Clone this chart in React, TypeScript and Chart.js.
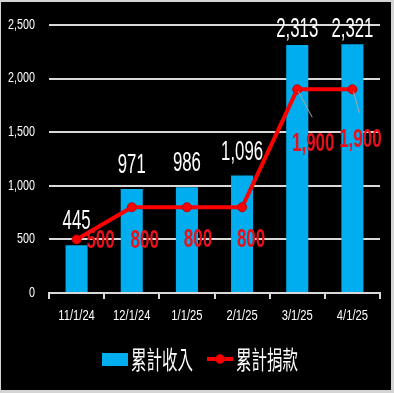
import React, { useEffect, useRef } from "react";
import { Chart, registerables } from "chart.js";
Chart.register(...registerables);

const categories = ["11/1/24", "12/1/24", "1/1/25", "2/1/25", "3/1/25", "4/1/25"];
const incomeValues = [445, 971, 986, 1096, 2313, 2321];
const donationValues = [500, 800, 800, 800, 1900, 1900];
const seriesNames = ["累計收入", "累計捐款"];
const yMax = 2500;
const yStep = 500;
// label placement tweaks (pixels) for the donation labels, as in the original
const donationLabelOffsets = [[24, 0], [13, 32], [11, 31], [9, 31], [16, 53], [8, 49]];

const SANS = "'Liberation Sans', Arial, sans-serif";
const CJK = "'Noto Sans CJK TC', 'Noto Sans CJK SC', sans-serif";
const BLUE = "#00AEEF";
const RED = "#ff0000";
const GRID = "#d9d9d9";

const fmt = (v: number) => v.toLocaleString("en-US");

function drawScaled(ctx: CanvasRenderingContext2D, text: string, x: number, y: number, sx: number, align: CanvasTextAlign, baseline: CanvasTextBaseline) {
  ctx.save();
  ctx.translate(x, y);
  ctx.scale(sx, 1);
  ctx.textAlign = align;
  ctx.textBaseline = baseline;
  ctx.fillText(text, 0, 0);
  ctx.restore();
}

const bgPlugin = {
  id: "bg",
  beforeDraw(chart: any) {
    const ctx = chart.ctx;
    ctx.save();
    ctx.fillStyle = "#d4d4d4";
    ctx.fillRect(0, 0, chart.width, chart.height);
    ctx.fillStyle = "#000";
    ctx.fillRect(1, 2, chart.width - 4, chart.height - 5);
    ctx.restore();
  },
};

const labelPlugin = {
  id: "labels",
  afterDatasetsDraw(chart: any) {
    const ctx = chart.ctx;
    const barMeta = chart.getDatasetMeta(1);
    const lineMeta = chart.getDatasetMeta(0);
    ctx.save();
    // bar labels
    ctx.fillStyle = "#ffffff";
    ctx.font = `28px ${SANS}`;
    barMeta.data.forEach((el: any, i: number) => {
      const y = Math.max(el.y - 16, 37);
      drawScaled(ctx, fmt(incomeValues[i]), el.x, y, 0.6, "center", "alphabetic");
    });
    // line labels
    lineMeta.data.forEach((el: any, i: number) => {
      const [dx, dy] = donationLabelOffsets[i];
      const lx = el.x + dx;
      const ly = el.y + dy;
      if (dy > 40) {
        ctx.strokeStyle = "#a6a6a6";
        ctx.lineWidth = 1;
        ctx.beginPath();
        ctx.moveTo(el.x + 1, el.y + 2);
        ctx.lineTo(lx - 1, ly - 25);
        ctx.stroke();
      }
      ctx.fillStyle = "#e8101a";
      ctx.font = `bold 25px ${SANS}`;
      drawScaled(ctx, fmt(donationValues[i]), lx, ly + 9, 0.68, "center", "alphabetic");
    });
    ctx.restore();
  },
  afterDraw(chart: any) {
    const ctx = chart.ctx;
    ctx.save();
    // axis tick labels
    const xs = chart.scales.x;
    const ys = chart.scales.y;
    ctx.fillStyle = "#ffffff";
    ctx.font = `14px ${SANS}`;
    for (let v = 0; v <= yMax; v += yStep) {
      drawScaled(ctx, fmt(v), chart.chartArea.left - 14, ys.getPixelForValue(v), 0.77, "right", "middle");
    }
    categories.forEach((c, i) => {
      drawScaled(ctx, c, xs.getPixelForValue(i), chart.chartArea.bottom + 23, 0.8, "center", "middle");
    });
    const ly = 359;
    // bar legend
    ctx.fillStyle = BLUE;
    ctx.fillRect(102, ly - 6, 26, 13);
    ctx.fillStyle = "#ffffff";
    ctx.font = `25px ${CJK}`;
    drawScaled(ctx, seriesNames[0], 131, ly, 0.62, "left", "middle");
    // line legend
    ctx.strokeStyle = RED;
    ctx.lineWidth = 4;
    ctx.beginPath();
    ctx.moveTo(207, ly);
    ctx.lineTo(233, ly);
    ctx.stroke();
    ctx.fillStyle = RED;
    ctx.strokeStyle = "#c00000";
    ctx.lineWidth = 1;
    ctx.beginPath();
    ctx.arc(220, ly, 4.5, 0, Math.PI * 2);
    ctx.fill();
    ctx.stroke();
    ctx.fillStyle = "#ffffff";
    drawScaled(ctx, seriesNames[1], 236, ly, 0.62, "left", "middle");
    ctx.restore();
  },
};

export default function App() {
  const ref = useRef<HTMLCanvasElement | null>(null);
  useEffect(() => {
    if (!ref.current) return;
    const chart = new Chart(ref.current, {
      type: "bar",
      data: {
        labels: categories,
        datasets: [
          {
            type: "line",
            label: seriesNames[1],
            data: donationValues,
            borderColor: RED,
            borderWidth: 4,
            pointRadius: 4.5,
            pointBackgroundColor: RED,
            pointBorderColor: "#c00000",
            pointBorderWidth: 1,
            order: 0,
          } as any,
          {
            type: "bar",
            label: seriesNames[0],
            data: incomeValues,
            backgroundColor: BLUE,
            categoryPercentage: 1,
            barPercentage: 0.4,
            order: 1,
          },
        ],
      },
      options: {
        responsive: false,
        animation: false,
        devicePixelRatio: 1,
        layout: { padding: { top: 25, right: 14, left: 0, bottom: 0 } },
        plugins: { legend: { display: false }, tooltip: { enabled: false } },
        scales: {
          x: {
            grid: { drawOnChartArea: false, drawTicks: true, tickLength: 6, color: GRID, lineWidth: 2 },
            border: { color: GRID, width: 2 },
            ticks: { color: "transparent", font: { size: 14, family: SANS }, padding: 8 },
            afterFit: (s: any) => { s.height = 100; },
          },
          y: {
            min: 0,
            max: yMax,
            grid: { color: GRID, lineWidth: 2, drawTicks: false },
            border: { display: false },
            ticks: {
              stepSize: yStep,
              color: "transparent",
              font: { size: 14, family: SANS },
              padding: 13,
              callback: (v: any) => fmt(Number(v)),
            },
            afterFit: (s: any) => { s.width = 49; },
          },
        },
      },
      plugins: [bgPlugin, labelPlugin],
    });
    return () => chart.destroy();
  }, []);
  return (
    <div style={{ position: "fixed", left: 0, top: 0, width: 394, height: 393 }}>
      <canvas ref={ref} width={394} height={393} style={{ display: "block" }} />
    </div>
  );
}
